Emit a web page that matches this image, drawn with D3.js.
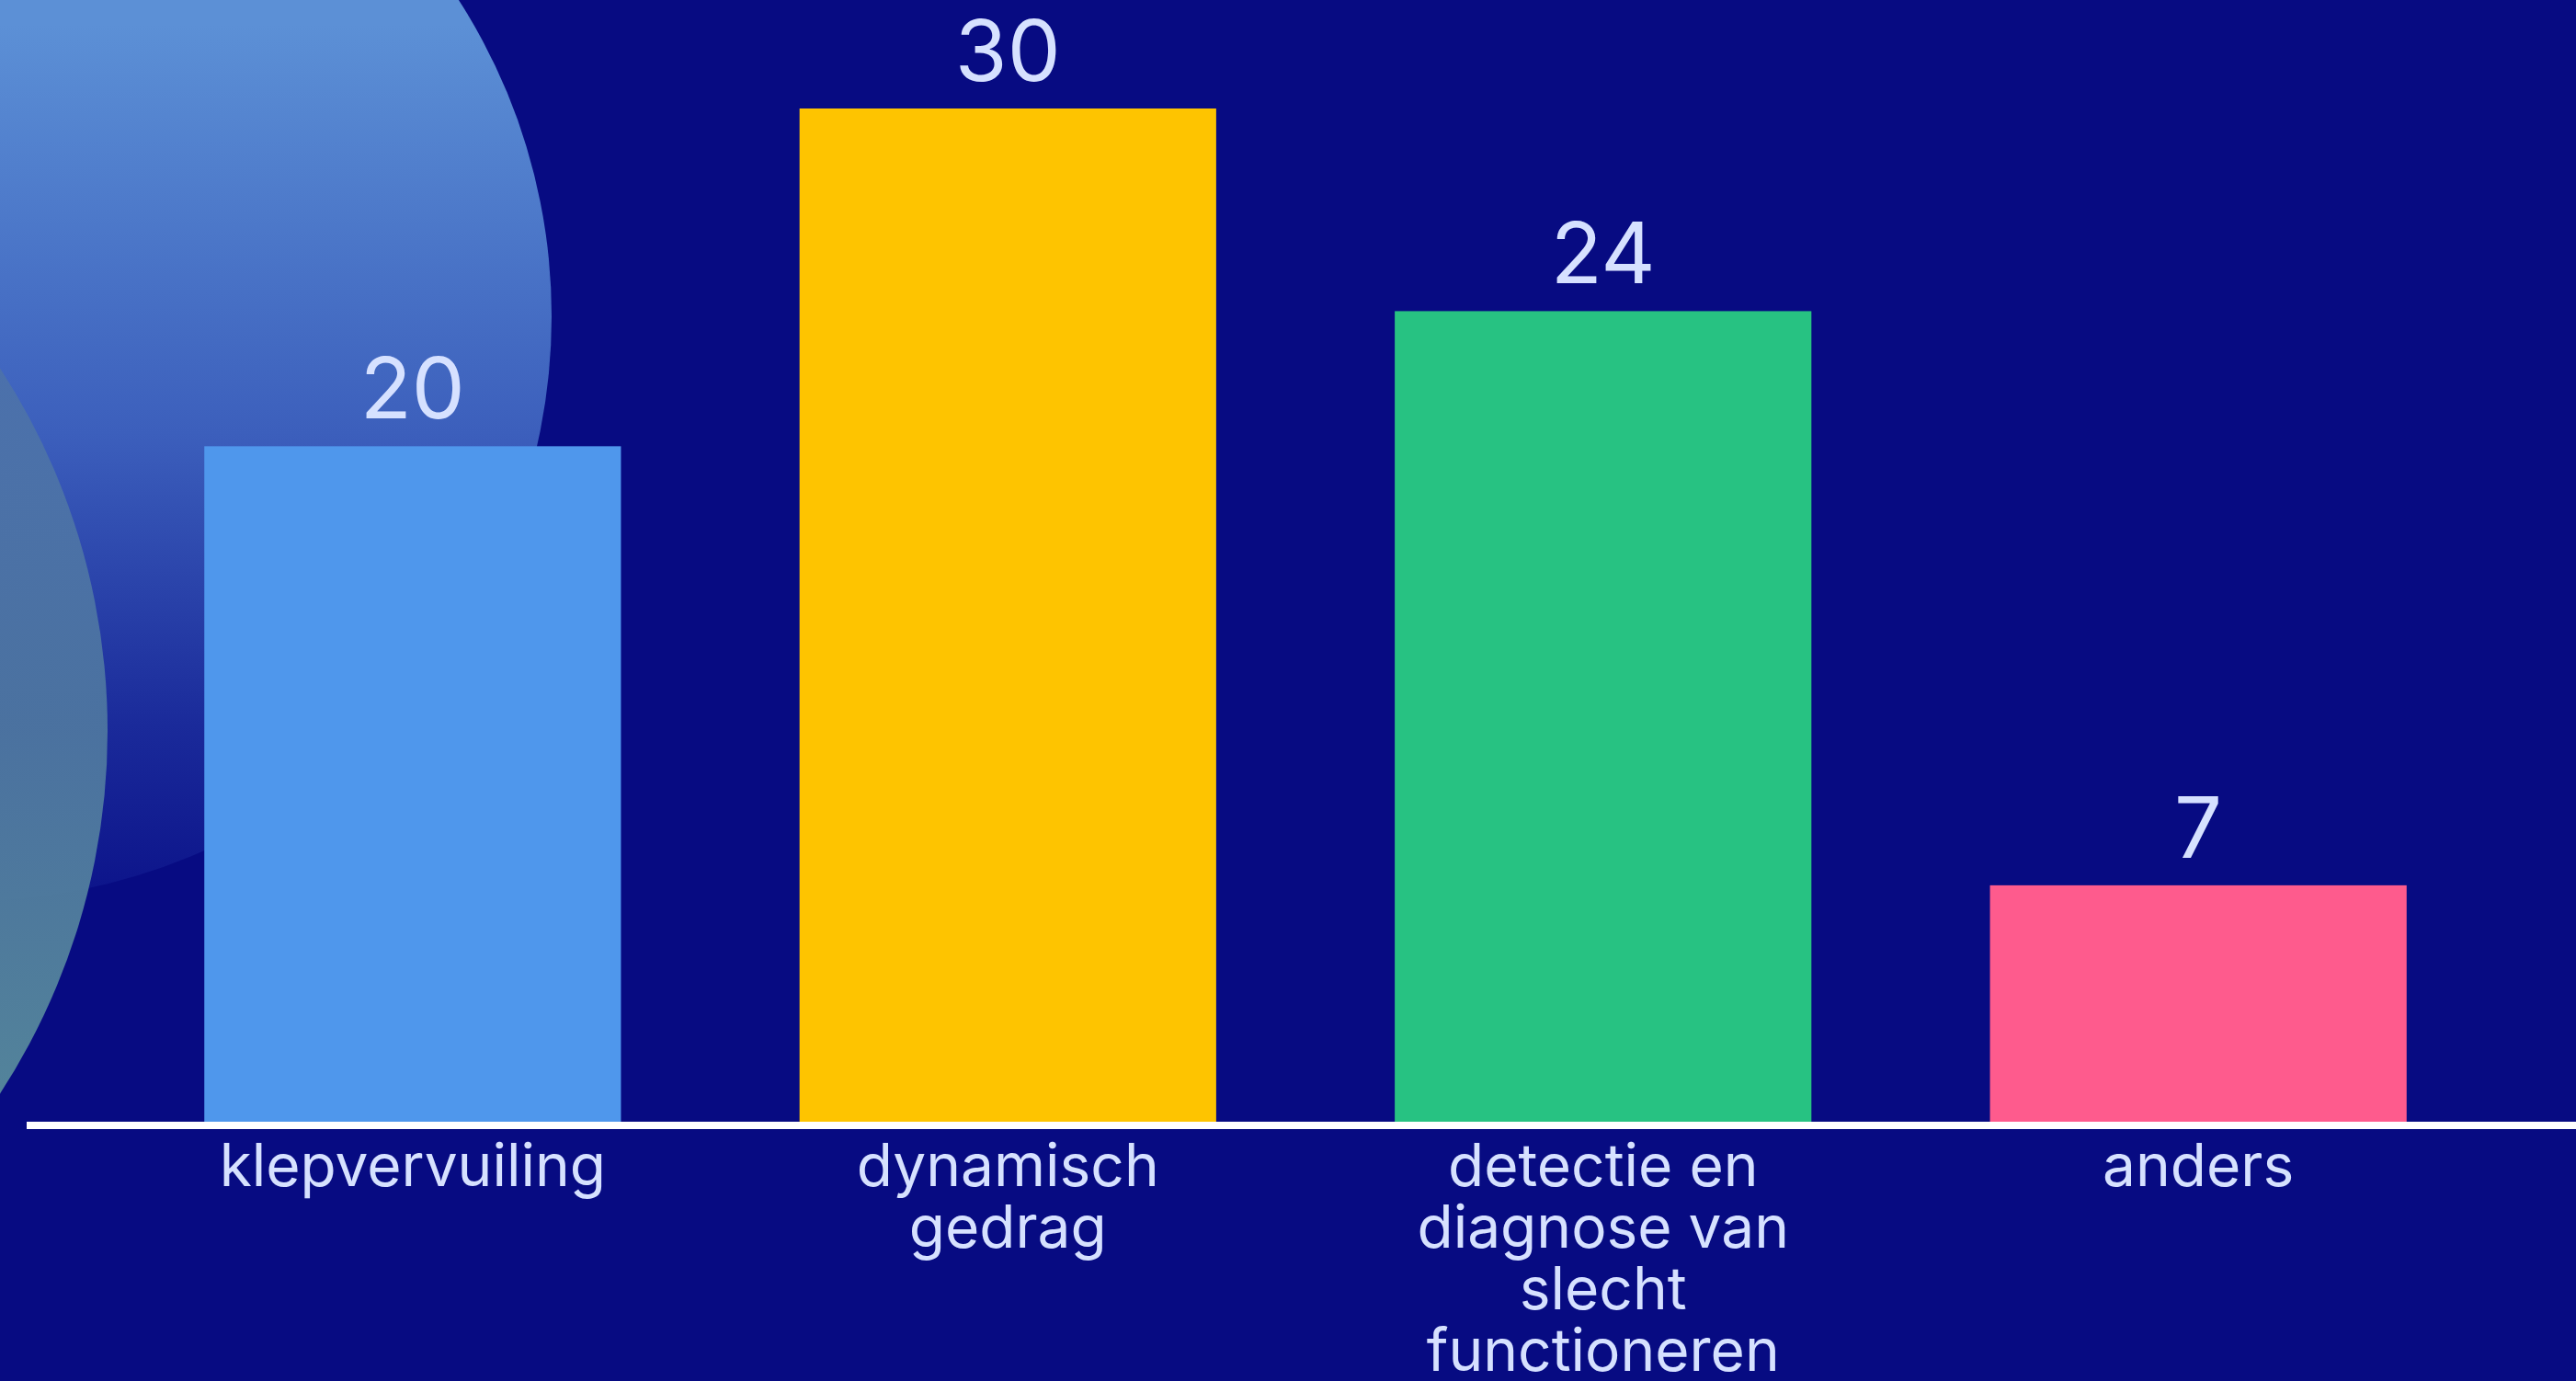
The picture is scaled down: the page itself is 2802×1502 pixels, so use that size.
<!DOCTYPE html>
<html>
<head>
<meta charset="utf-8">
<script src="https://cdn.jsdelivr.net/npm/d3@7"></script>
<style>
  body { margin: 0; background: #070b82; overflow: hidden; }
  text { font-family: Inter, "Open Sans", sans-serif; fill: #d6e1ff; }
</style>
</head>
<body>
<script>
const width = 2802;
const height = 1502;

// chart data
const categories = ["klepvervuiling", "dynamisch gedrag", "detectie en diagnose van slecht functioneren", "anders"];
const values = [20, 30, 24, 7];
const barColors = ["#4f97ec", "#fec400", "#27c282", "#fe5b8d"];

const baseY = 1220;   // where the bars stand
const topY = 118;     // height of the max value (30)

const svg = d3.select("body").append("svg")
    .attr("width", width)
    .attr("height", height);

svg.append("rect")
    .attr("width", width)
    .attr("height", height)
    .attr("fill", "#070b82");

// decorative circles on the left
const defs = svg.append("defs");
const g1 = defs.append("linearGradient")
    .attr("id", "bigCircle")
    .attr("x1", 0).attr("y1", 0).attr("x2", 0).attr("y2", 1);
g1.append("stop").attr("offset", "0.25").attr("stop-color", "#5c90d6");
g1.append("stop").attr("offset", "0.6").attr("stop-color", "#3c5fbc");
g1.append("stop").attr("offset", "0.85").attr("stop-color", "#1a2a9a");
g1.append("stop").attr("offset", "1").attr("stop-color", "#0c138a");

const g2 = defs.append("linearGradient")
    .attr("id", "smallCircle")
    .attr("x1", 0).attr("y1", 0).attr("x2", 0).attr("y2", 1);
g2.append("stop").attr("offset", "0").attr("stop-color", "#4a6cb2");
g2.append("stop").attr("offset", "0.5").attr("stop-color", "#4f78a0");
g2.append("stop").attr("offset", "1").attr("stop-color", "#62a09a");

svg.append("circle")
    .attr("cx", -36).attr("cy", 344).attr("r", 636)
    .attr("fill", "url(#bigCircle)");

svg.append("circle")
    .attr("cx", -607).attr("cy", 795).attr("r", 724)
    .attr("fill", "url(#smallCircle)")
    .attr("opacity", 0.92);

const x = d3.scaleBand()
    .domain(categories)
    .range([28, 2812])
    .paddingInner(0.3)
    .paddingOuter(0.3);

const y = d3.scaleLinear()
    .domain([0, 30])
    .range([baseY, topY]);

svg.append("g")
    .selectAll("rect")
    .data(categories)
    .join("rect")
    .attr("x", d => x(d))
    .attr("y", (d, i) => y(values[i]))
    .attr("width", x.bandwidth())
    .attr("height", (d, i) => y(0) - y(values[i]))
    .attr("fill", (d, i) => barColors[i]);

// value labels
svg.append("g")
    .selectAll("text")
    .data(categories)
    .join("text")
    .attr("x", d => x(d) + x.bandwidth() / 2)
    .attr("y", (d, i) => y(values[i]) - 30)
    .attr("text-anchor", "middle")
    .attr("font-size", 92)
    .text((d, i) => values[i]);

// x axis
const xAxis = svg.append("g")
    .attr("transform", `translate(0,${baseY + 4})`)
    .call(d3.axisBottom(x).tickSize(0).tickPadding(0));
xAxis.select(".domain").remove();
svg.append("line")
    .attr("x1", 29).attr("x2", width)
    .attr("y1", baseY + 4).attr("y2", baseY + 4)
    .attr("stroke", "#ffffff")
    .attr("stroke-width", 8);

xAxis.selectAll(".tick text")
    .attr("font-size", 64)
    .attr("fill", "#d6e1ff")
    .attr("font-family", "Inter, sans-serif")
    .attr("dy", null)
    .call(wrap, x.bandwidth());

function wrap(text, maxWidth) {
    text.each(function() {
        const t = d3.select(this);
        const words = t.text().split(/\s+/);
        t.text(null);
        let line = [];
        let lineNo = 0;
        let tspan = t.append("tspan").attr("x", 0).attr("y", 66);
        words.forEach(w => {
            line.push(w);
            tspan.text(line.join(" "));
            if (tspan.node().getComputedTextLength() > maxWidth && line.length > 1) {
                line.pop();
                tspan.text(line.join(" "));
                line = [w];
                lineNo++;
                tspan = t.append("tspan").attr("x", 0).attr("y", 66 + lineNo * 67).text(w);
            }
        });
    });
}
</script>
</body>
</html>
